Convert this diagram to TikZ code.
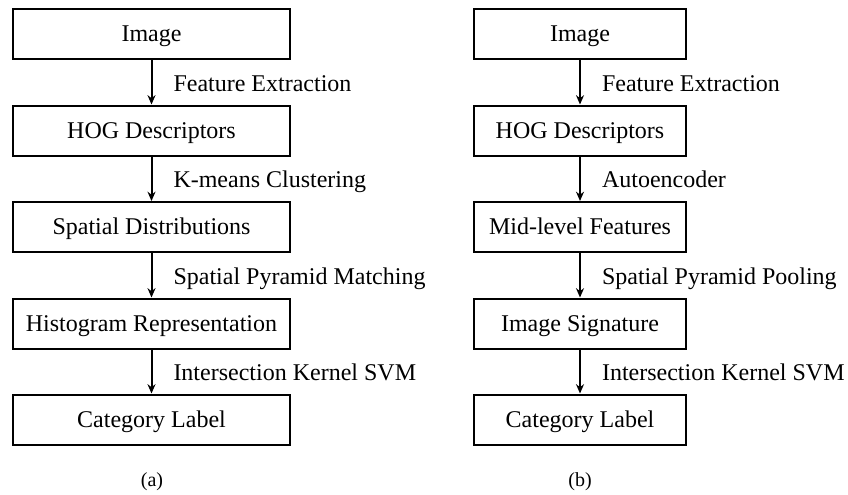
\documentclass[tikz,border=0pt]{standalone}
\usepackage{fontspec}
\setmainfont{Liberation Serif}
\usepackage{tikz}
\usetikzlibrary{arrows.meta, positioning}

\tikzset{
  stage/.style={draw, line width=1.5pt, minimum height=37.5pt, inner sep=0pt,
    text height=11.9pt, text depth=0pt, font=\fontsize{18}{20}\selectfont},
  stageA/.style={stage, minimum width=207.75pt},
  stageB/.style={stage, minimum width=159pt},
  flow/.style={line width=1.5pt, -{Stealth[length=7pt, width=6pt]}},
  steplabel/.style={anchor=base west, inner sep=0pt, xshift=15.75pt, yshift=-6.9pt,
    font=\fontsize{18}{20}\selectfont},
  caption/.style={inner sep=0pt, font=\fontsize{15}{17}\selectfont}
}

\begin{document}
\begin{tikzpicture}[x=0.75pt, y=-0.75pt]
  \useasboundingbox (0,0) rectangle (848,494);
  % (a) pipeline
  \node[stageA] (a1) at (151.5,34) {Image};
  \node[stageA] (a2) at (151.5,130.5) {HOG Descriptors};
  \node[stageA] (a3) at (151.5,227) {Spatial Distributions};
  \node[stageA] (a4) at (151.5,323.5) {Histogram Representation};
  \node[stageA] (a5) at (151.5,419.5) {Category Label};
  \draw[flow] (a1) -- node[steplabel] {Feature Extraction} (a2);
  \draw[flow] (a2) -- node[steplabel] {K-means Clustering} (a3);
  \draw[flow] (a3) -- node[steplabel] {Spatial Pyramid Matching} (a4);
  \draw[flow] (a4) -- node[steplabel] {Intersection Kernel SVM} (a5);
  \node[caption] (capA) at (152,482) {(a)};
  % (b) pipeline
  \node[stageB] (b1) at (580,34) {Image};
  \node[stageB] (b2) at (580,130.5) {HOG Descriptors};
  \node[stageB] (b3) at (580,227) {Mid-level Features};
  \node[stageB] (b4) at (580,323.5) {Image Signature};
  \node[stageB] (b5) at (580,419.5) {Category Label};
  \draw[flow] (b1) -- node[steplabel] {Feature Extraction} (b2);
  \draw[flow] (b2) -- node[steplabel] {Autoencoder} (b3);
  \draw[flow] (b3) -- node[steplabel] {Spatial Pyramid Pooling} (b4);
  \draw[flow] (b4) -- node[steplabel] {Intersection Kernel SVM} (b5);
  \node[caption] (capB) at (580,482) {(b)};
\end{tikzpicture}
\end{document}
